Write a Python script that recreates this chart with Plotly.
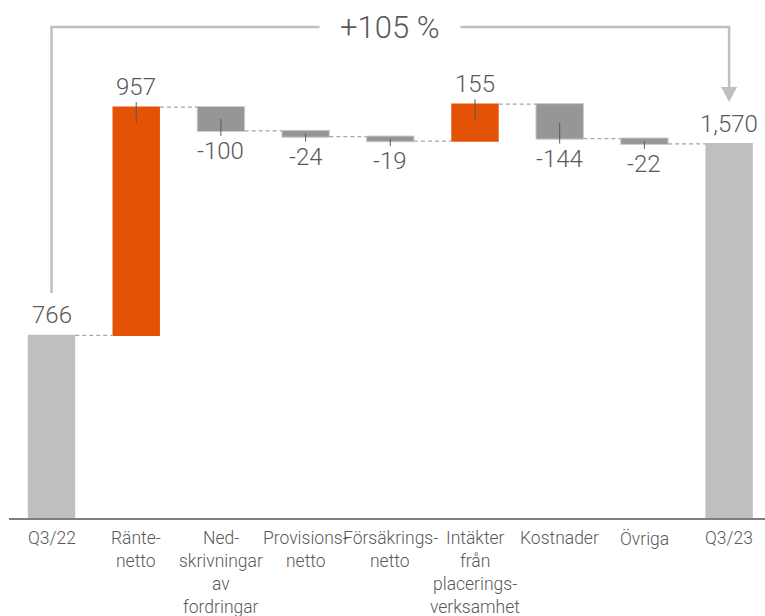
import plotly.graph_objects as go

# Result bridge Q3/22 -> Q3/23 (MSEK)
categories = [
    "Q3/22",
    "Ränte-<br>netto",
    "Ned-<br>skrivningar<br>av<br>fordringar",
    "Provisions-<br>netto",
    "Försäkrings-<br>netto",
    "Intäkter<br>från<br>placerings-<br>verksamhet",
    "Kostnader",
    "Övriga",
    "Q3/23",
]
values = [766, 957, -100, -24, -19, 155, -144, -22, 1570]
measures = ["absolute", "relative", "relative", "relative", "relative",
            "relative", "relative", "relative", "absolute"]
value_labels = ["766", "957", "-100", "-24", "-19", "155", "-144", "-22", "1,570"]
change_label = "+105 %"

TEXT = "#595959"
ORANGE = "#E35205"
GREY_NEG = "#969696"
GREY_TOT = "#BFBFBF"
FONT = "Roboto, Liberation Sans, sans-serif"
LIGHT = 300

W, H = 765, 616
M_L, M_B = 9, 98
PLOT_H = H - M_B
Y_MAX = 2172
U = Y_MAX / PLOT_H          # data units per pixel on the y axis
X_RANGE = [-0.502, 8.424]

xs = list(range(len(categories)))

fig = go.Figure(go.Waterfall(
    x=xs,
    y=values,
    measure=measures,
    width=[0.56] * len(xs),
    increasing=dict(marker=dict(color=ORANGE)),
    decreasing=dict(marker=dict(color=GREY_NEG, line=dict(color="#CDCDCD", width=1))),
    totals=dict(marker=dict(color=GREY_TOT)),
    connector=dict(mode="between", line=dict(color="#A6A6A6", width=1.2, dash="4px,3px")),
    hoverinfo="skip",
))

# running totals: start / end of every bar
starts, ends = [], []
run = 0
for v, m in zip(values, measures):
    if m == "absolute":
        starts.append(0)
        run = v
    else:
        starts.append(run)
        run += v
    ends.append(run)

val_font = dict(family=FONT, size=24, color=TEXT, weight=LIGHT)
shapes = []
annotations = []
for i, (s, e, m, lab) in enumerate(zip(starts, ends, measures, value_labels)):
    top, bot = max(s, e), min(s, e)
    up = (m == "absolute") or e >= s
    if up:
        annotations.append(dict(x=i, y=top, text=lab, showarrow=False, yanchor="bottom",
                                yshift=4, font=val_font))
    else:
        annotations.append(dict(x=i, y=bot, text=lab, showarrow=False, yanchor="top",
                                yshift=-4, font=val_font))
    if m != "absolute":
        inner = min((top - bot) / 2, 16 * U)
        if up:
            y0, y1 = top + 5 * U, top - inner
        else:
            y0, y1 = bot - 5 * U, bot + inner
        shapes.append(dict(type="line", x0=i, x1=i, y0=y0, y1=y1, xref="x", yref="y",
                           line=dict(color=TEXT, width=1)))

# category labels, one line at a time for tight line spacing
cat_font = dict(family=FONT, size=17.5, color=TEXT, weight=LIGHT)
for i, cat in enumerate(categories):
    for j, line in enumerate(cat.split("<br>")):
        annotations.append(dict(x=i, y=0, xref="x", yref="paper", text=line, showarrow=False,
                                yanchor="top", yshift=-7.5 - j * 23,
                                font=cat_font))

# +105 % bracket from first to last bar
first, last = xs[0], xs[-1]
bracket_y = (PLOT_H - 27) * U
left_bottom = (PLOT_H - 293) * U
arrow_base = (PLOT_H - 87) * U
arrow_tip = (PLOT_H - 102) * U
half_w = 8 / ((W - M_L) / (X_RANGE[1] - X_RANGE[0]))
BR = dict(color=GREY_TOT, width=2.5)
shapes.append(dict(type="path", xref="x", yref="y",
                   path=f"M {first},{left_bottom} L {first},{bracket_y} L {last},{bracket_y} L {last},{arrow_base}",
                   line=BR))
shapes.append(dict(type="path", xref="x", yref="y",
                   path=f"M {last - half_w},{arrow_base} L {last + half_w},{arrow_base} L {last},{arrow_tip} Z",
                   fillcolor=GREY_TOT, line=dict(color=GREY_TOT, width=0)))
annotations.append(dict(x=(first + last) / 2, y=bracket_y, text=change_label, showarrow=False,
                        bgcolor="white", borderpad=20, yanchor="middle",
                        font=dict(family=FONT, size=31, color=TEXT, weight=LIGHT)))

fig.update_layout(
    width=W, height=H,
    margin=dict(l=M_L, r=0, t=0, b=M_B),
    plot_bgcolor="white", paper_bgcolor="white",
    showlegend=False,
    xaxis=dict(range=X_RANGE, showticklabels=False, showgrid=False, zeroline=False,
               showline=True, linecolor="#7F7F7F", linewidth=1.5, ticks=""),
    yaxis=dict(range=[0, Y_MAX], visible=False, showgrid=False),
    shapes=shapes,
    annotations=annotations,
)

fig.write_html("out.html")
